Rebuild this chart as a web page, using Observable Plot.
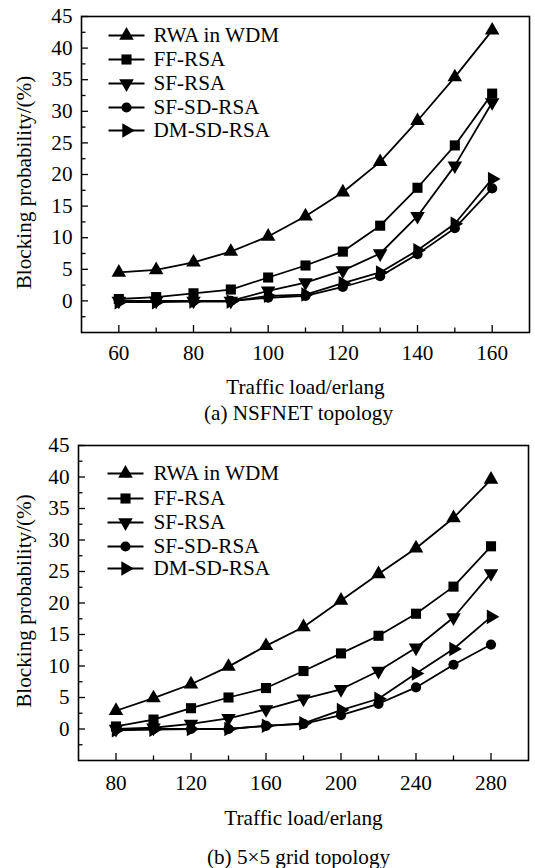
<!DOCTYPE html>
<html>
<head>
<meta charset="utf-8">
<script src="https://cdn.jsdelivr.net/npm/d3@7"></script>
<script src="https://cdn.jsdelivr.net/npm/@observablehq/plot@0.6"></script>
<style>
  body { margin: 0; background: #fff; }
  #wrap { width: 535px; font-family: "Liberation Serif", "Times New Roman", serif; color: #000; }
  .cap { width: 535px; height: 26px; line-height: 26px; text-align: center; font-size: 21.2px; box-sizing: border-box; padding-left: 62px; }
</style>
</head>
<body>
<div id="wrap"></div>
<script>
// ---------- data ----------
const seriesNames = ["RWA in WDM", "FF-RSA", "SF-RSA", "SF-SD-RSA", "DM-SD-RSA"];

// (a) NSFNET topology
const loadA = [60, 70, 80, 90, 100, 110, 120, 130, 140, 150, 160];
const rwaA    = [4.5, 4.9, 6.1, 7.8, 10.2, 13.4, 17.2, 22.0, 28.5, 35.4, 42.8];
const ffA     = [0.3, 0.6, 1.2, 1.8, 3.7, 5.6, 7.8, 11.9, 17.9, 24.6, 32.8];
const sfA     = [0.0, 0.0, 0.0, 0.0, 1.6, 2.9, 4.8, 7.5, 13.4, 21.4, 31.4];
const sfsdA   = [0.0, 0.0, 0.0, 0.0, 0.5, 0.8, 2.2, 3.9, 7.4, 11.5, 17.8];
const dmsdA   = [-0.2, -0.2, -0.1, -0.1, 0.8, 1.0, 2.8, 4.5, 8.0, 12.2, 19.3];
const xTicksA = [60, 80, 100, 120, 140, 160];
const xMinorA = [70, 90, 110, 130, 150];

// (b) 5x5 grid topology
const loadB = [80, 100, 120, 140, 160, 180, 200, 220, 240, 260, 280];
const rwaB    = [2.9, 4.9, 7.1, 9.9, 13.2, 16.2, 20.4, 24.6, 28.7, 33.5, 39.6];
const ffB     = [0.4, 1.5, 3.3, 5.0, 6.5, 9.2, 12.0, 14.8, 18.3, 22.6, 29.0];
const sfB     = [0.0, 0.2, 0.8, 1.7, 3.1, 4.8, 6.3, 9.2, 12.9, 17.7, 24.7];
const sfsdB   = [0.0, 0.0, 0.0, 0.0, 0.5, 0.8, 2.2, 4.0, 6.6, 10.2, 13.4];
const dmsdB   = [-0.2, -0.1, 0.0, 0.0, 0.5, 0.9, 3.0, 4.8, 8.8, 12.7, 17.8];
const xTicksB = [80, 120, 160, 200, 240, 280];
const xMinorB = [100, 140, 180, 220, 260];

const yTicks = [0, 5, 10, 15, 20, 25, 30, 35, 40, 45];
const yMinor = [-2.5, 2.5, 7.5, 12.5, 17.5, 22.5, 27.5, 32.5, 37.5, 42.5];

// ---------- styling ----------
const FONT = "Liberation Serif, Times New Roman, serif";
const FS = 21.2;
const markers = [
  {symbol: "triangle", rotate: 0, r: 5.4},
  {symbol: "square", rotate: 0, r: 5.7},
  {symbol: "triangle", rotate: 180, r: 5.4},
  {symbol: "circle", rotate: 0, r: 5.1},
  {symbol: "triangle", rotate: 90, r: 5.4}
];
const lineSymbol = { draw(ctx) { ctx.moveTo(-18, 0); ctx.lineTo(18, 0); } };

function chart(opts) {
  const {xs, ys, xDomain, xTicks, xMinor, width, height, mt, ml, mr, mb,
         xLabelDy, xTickPad, yLabelDx, yLabelDy, legDx, legTextDx, legDy} = opts;
  const fw = width - ml - mr, fh = height - mt - mb;
  const marks = [];
  // inward ticks
  marks.push(Plot.tickY(yTicks, {y: d => d, insetRight: fw - 7, stroke: "black", strokeWidth: 1.3}));
  marks.push(Plot.tickY(yMinor, {y: d => d, insetRight: fw - 4.5, stroke: "black", strokeWidth: 1.3}));
  marks.push(Plot.tickX(xTicks, {x: d => d, insetTop: fh - 7, stroke: "black", strokeWidth: 1.3}));
  marks.push(Plot.tickX(xMinor, {x: d => d, insetTop: fh - 4.5, stroke: "black", strokeWidth: 1.3}));
  marks.push(Plot.axisY({ticks: yTicks, tickSize: 0, tickPadding: 9, label: null, fontSize: FS}));
  marks.push(Plot.axisX({ticks: xTicks, tickSize: 0, tickPadding: xTickPad, label: null, fontSize: FS}));
  marks.push(Plot.frame({stroke: "black", strokeWidth: 1.6}));
  // series
  ys.forEach((vals, i) => {
    const data = xs.map((x, j) => ({x, y: vals[j]}));
    marks.push(Plot.line(data, {x: "x", y: "y", stroke: "black", strokeWidth: 1.8}));
    marks.push(Plot.dot(data, {x: "x", y: "y", symbol: markers[i].symbol, rotate: markers[i].rotate,
      r: markers[i].r, fill: "black", stroke: "none"}));
  });
  // legend
  seriesNames.forEach((name, i) => {
    marks.push(Plot.dot([name], {frameAnchor: "top-left", dx: legDx, dy: legDy[i], symbol: lineSymbol,
      r: 5, stroke: "black", strokeWidth: 1.8, fill: "none"}));
    marks.push(Plot.dot([name], {frameAnchor: "top-left", dx: legDx, dy: legDy[i], symbol: markers[i].symbol,
      rotate: markers[i].rotate, r: markers[i].r, fill: "black", stroke: "none"}));
    marks.push(Plot.text([name], {frameAnchor: "top-left", dx: legTextDx, dy: legDy[i], text: d => d,
      textAnchor: "start", lineAnchor: "middle", fontSize: FS}));
  });
  // axis titles
  marks.push(Plot.text(["Traffic load/erlang"], {frameAnchor: "bottom", dy: xLabelDy, text: d => d,
    textAnchor: "middle", lineAnchor: "middle", fontSize: FS}));
  marks.push(Plot.text(["Blocking probability/(%)"], {frameAnchor: "left", dx: yLabelDx, dy: yLabelDy, rotate: -90,
    text: d => d, textAnchor: "middle", lineAnchor: "middle", fontSize: FS}));
  return Plot.plot({
    width, height, marginTop: mt, marginLeft: ml, marginRight: mr, marginBottom: mb,
    x: {domain: xDomain},
    y: {domain: [-5, 45]},
    style: {fontFamily: FONT, fontSize: FS + "px", color: "black", background: "white", overflow: "visible"},
    marks
  });
}

const wrap = document.getElementById("wrap");
wrap.append(chart({
  xs: loadA, ys: [rwaA, ffA, sfA, sfsdA, dmsdA], xDomain: [50, 170], xTicks: xTicksA, xMinor: xMinorA,
  width: 535, height: 400, mt: 16, ml: 81, mr: 6, mb: 68,
  xLabelDy: 55, xTickPad: 12, yLabelDx: -57, yLabelDy: 8,
  legDx: 45, legTextDx: 72, legDy: [19, 43, 67, 91, 114]
}));
const cap1 = document.createElement("div");
cap1.className = "cap"; cap1.textContent = "(a) NSFNET topology";
wrap.append(cap1);
wrap.append(chart({
  xs: loadB, ys: [rwaB, ffB, sfB, sfsdB, dmsdB], xDomain: [60, 300], xTicks: xTicksB, xMinor: xMinorB,
  width: 535, height: 418, mt: 19, ml: 78, mr: 7, mb: 84,
  xLabelDy: 58, xTickPad: 14, yLabelDx: -54, yLabelDy: -2,
  legDx: 47, legTextDx: 75, legDy: [28, 53, 77, 101, 123]
}));
const cap2 = document.createElement("div");
cap2.className = "cap"; cap2.textContent = "(b) 5×5 grid topology";
wrap.append(cap2);
</script>
</body>
</html>
